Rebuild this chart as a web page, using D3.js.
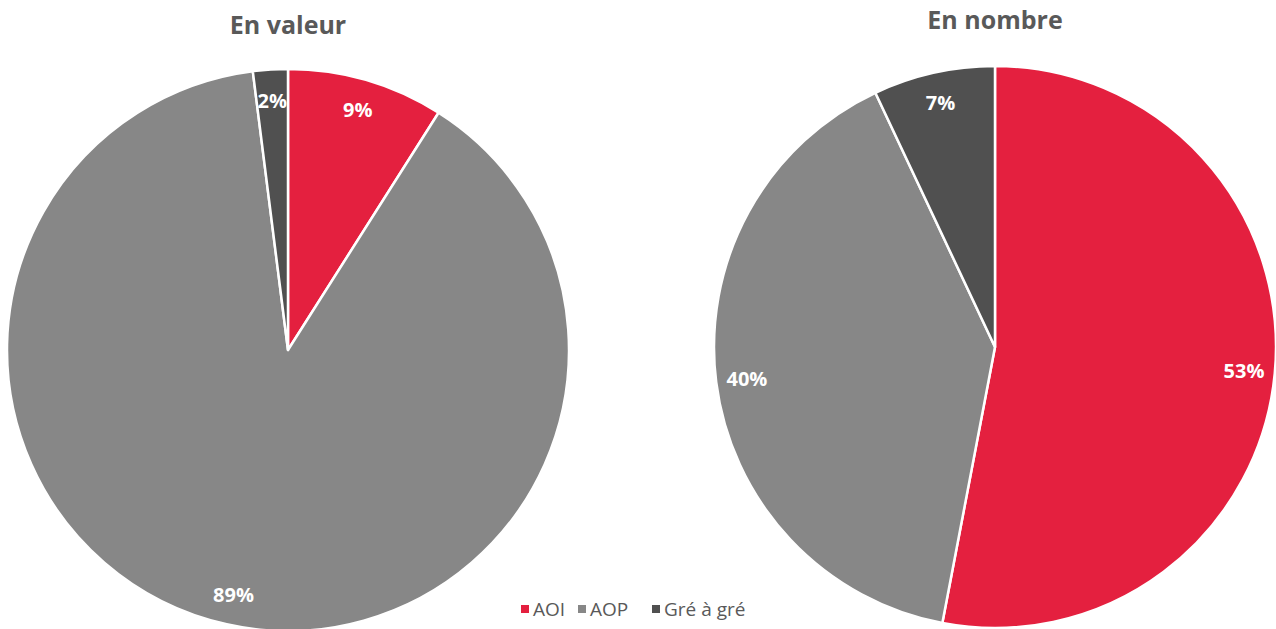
<!DOCTYPE html>
<html>
<head>
<meta charset="utf-8">
<script src="https://cdn.jsdelivr.net/npm/d3@7"></script>
<style>
  html, body { margin: 0; padding: 0; background: #fff; }
  svg { display: block; }
</style>
</head>
<body>
<svg id="chart" width="1276" height="629"></svg>
<script>
// Share of each procurement type, by value and by count (%)
const categories = ["AOI", "AOP", "Gré à gré"];
const colors = ["#E4203F", "#878787", "#505050"];
const valeurValues = [9, 89, 2];
const nombreValues = [53, 40, 7];
const titles = ["En valeur", "En nombre"];

const svg = d3.select("#chart");
const font = "'Open Sans', 'Liberation Sans', sans-serif";

const color = d3.scaleOrdinal().domain(categories).range(colors);
const pie = d3.pie().sort(null).value(d => d.value);

const panels = [
  { title: titles[0], values: valeurValues, cx: 288, cy: 350, r: 281, titleY: 34 },
  { title: titles[1], values: nombreValues, cx: 995, cy: 347, r: 281, titleY: 29 }
];

panels.forEach(p => {
  const data = categories.map((c, i) => ({ category: c, value: p.values[i] }));
  const arcs = pie(data);
  const arc = d3.arc().innerRadius(0).outerRadius(p.r);
  const labelArc = d3.arc().innerRadius(p.r * 0.89).outerRadius(p.r * 0.89);

  const g = svg.append("g").attr("transform", `translate(${p.cx},${p.cy})`);

  g.selectAll("path")
    .data(arcs)
    .join("path")
    .attr("d", arc)
    .attr("fill", d => color(d.data.category))
    .attr("stroke", "#fff")
    .attr("stroke-width", 2.5)
    .attr("stroke-linejoin", "round");

  g.selectAll("text.lbl")
    .data(arcs)
    .join("text")
    .attr("class", "lbl")
    .attr("transform", d => `translate(${labelArc.centroid(d)})`)
    .attr("text-anchor", "middle")
    .attr("dominant-baseline", "central")
    .attr("font-family", font)
    .attr("font-weight", 700)
    .attr("font-size", 20)
    .attr("fill", "#fff")
    .text(d => d.data.value + "%");

  svg.append("text")
    .attr("x", p.cx)
    .attr("y", p.titleY)
    .attr("text-anchor", "middle")
    .attr("font-family", font)
    .attr("font-weight", 700)
    .attr("font-size", 25)
    .attr("fill", "#595959")
    .text(p.title);
});

// Legend
const legendX = [521, 578, 652];
const legend = svg.append("g").attr("transform", "translate(0,609)");
const items = legend.selectAll("g")
  .data(categories)
  .join("g")
  .attr("transform", (d, i) => `translate(${legendX[i]},0)`);
items.append("rect")
  .attr("x", 0).attr("y", -4)
  .attr("width", 8).attr("height", 8)
  .attr("fill", d => color(d));
items.append("text")
  .attr("x", 12).attr("y", 0)
  .attr("dominant-baseline", "central")
  .attr("font-family", font)
  .attr("font-size", 19)
  .attr("fill", "#595959")
  .text(d => d);
</script>
</body>
</html>
